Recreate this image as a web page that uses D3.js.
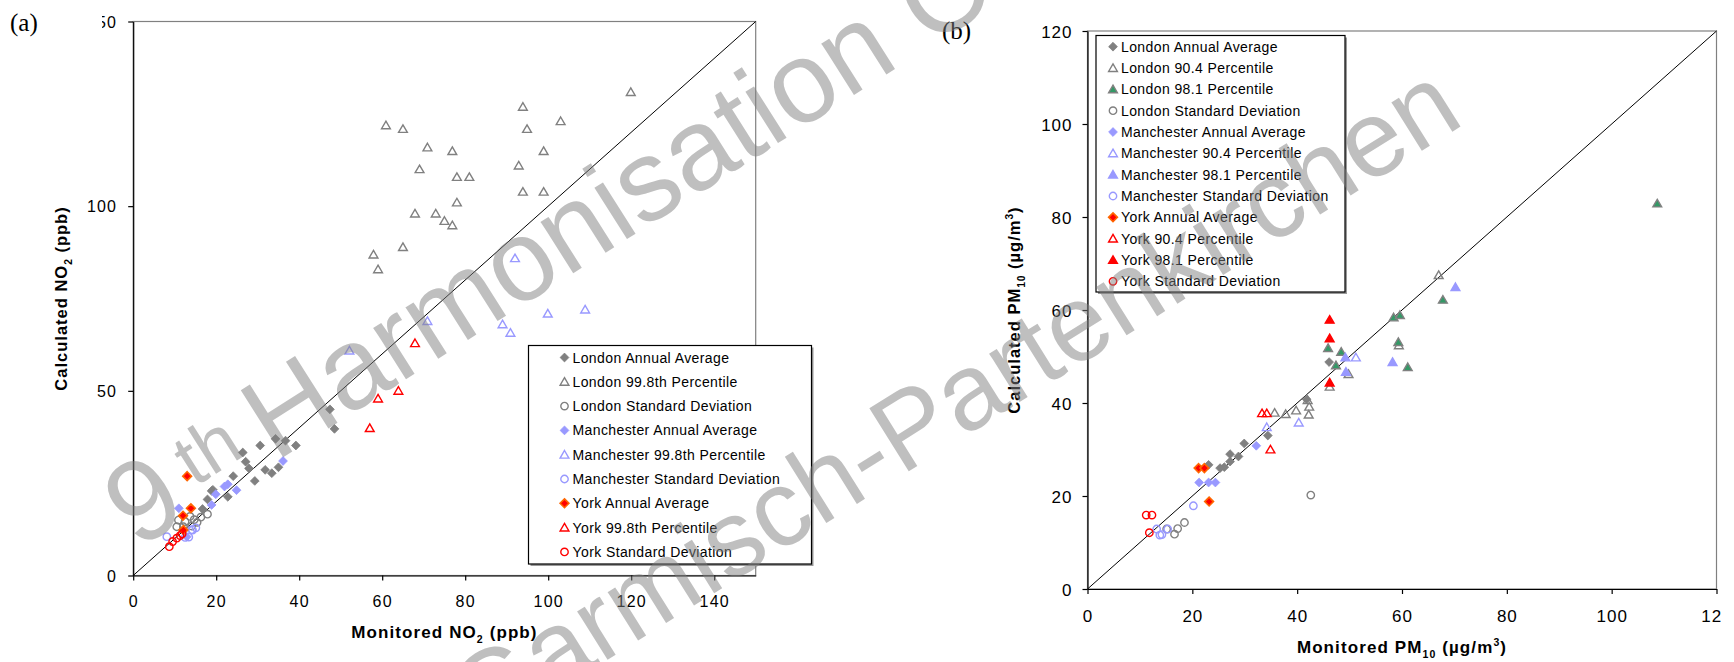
<!DOCTYPE html>
<html>
<head>
<meta charset="utf-8">
<script src="https://cdn.jsdelivr.net/npm/d3@7"></script>
<style>
  html, body { margin: 0; padding: 0; background: #fff; }
  svg { display: block; }
</style>
</head>
<body>
<svg id="chart" width="1734" height="662"></svg>
<script>
// Panel (a): NO2, monitored vs calculated (ppb)
const no2XTicks = [0, 20, 40, 60, 80, 100, 120, 140];
const no2YTicks = [0, 50, 100, 150];

const no2LondonAverage = [[47.4,45.0],[48.5,39.7],[36.7,36.5],[34.3,37.0],[39.2,35.2],[30.6,35.2],[26.4,33.3],
  [27.1,30.8],[27.9,29.0],[31.8,28.6],[33.4,27.7],[35.0,29.3],[29.3,25.6],[24.1,26.9],[22.8,21.3],[18.9,22.9],
  [17.9,20.6],[16.7,18.0],[19.2,23.2]];
const no2LondonP998 = [[119.9,130.9],[93.9,126.9],[60.9,121.9],[65.0,120.9],[94.9,120.9],[103.0,123.0],[70.9,115.9],
  [76.9,114.9],[98.9,114.9],[69.0,110.0],[92.9,111.0],[78.0,107.9],[81.0,107.9],[93.9,103.9],[98.9,103.9],
  [78.0,101.0],[67.9,98.0],[72.9,98.0],[75.0,96.0],[76.9,94.8],[65.0,88.9],[57.9,86.9],[59.0,82.9]];
const no2LondonSd = [[17.9,16.6],[16.3,15.8],[14.7,15.1],[13.7,16.0],[12.5,14.6],[10.9,15.0],[10.5,13.2],
  [12.1,13.2],[14.1,13.4],[15.4,14.4]];
const no2ManchesterAverage = [[36.1,31.0],[24.9,23.1],[22.8,24.7],[22.0,24.1],[19.9,22.0],[18.9,19.1],[11.0,18.2],[12.9,10.5]];
const no2ManchesterP998 = [[52.1,60.9],[70.9,68.9],[89.0,68.0],[90.9,65.7],[92.0,85.9],[99.9,70.9],[108.9,72.0]];
const no2ManchesterSd = [[8.1,10.5],[15.1,12.9],[14.1,12.4],[13.4,10.4],[12.5,10.3],[14.3,12.3]];
const no2YorkAverage = [[13.0,26.9],[13.9,18.2],[12.0,16.2],[12.1,12.3]];
const no2YorkP998 = [[67.9,62.9],[59.0,47.9],[63.9,50.0],[57.0,39.9]];
const no2YorkSd = [[8.7,7.8],[9.5,9.2],[10.5,10.1],[11.3,10.8],[11.8,11.3]];

// Panel (b): PM10, monitored vs calculated (ug/m3)
const pmTicks = [0, 20, 40, 60, 80, 100, 120];

const pmLondonAverage = [[46.1,48.8],[41.8,40.8],[34.4,33.0],[29.9,31.3],[28.8,28.5],[27.2,29.0],[27.2,27.4],
  [26.1,26.2],[25.3,26.0],[23.1,26.7]];
const pmLondonP904 = [[35.7,37.9],[37.8,37.6],[39.8,38.4],[42.2,37.5],[42.3,39.2],[42.0,40.6],[46.2,43.5],
  [49.8,46.2],[59.4,52.4],[67.0,67.5]];
const pmLondonP981 = [[108.7,82.9],[67.8,62.2],[58.4,58.4],[59.6,58.9],[59.3,53.1],[45.9,51.8],[48.4,51.0],
  [47.4,48.1],[61.1,47.7]];
const pmLondonSd = [[42.6,20.2],[18.5,14.3],[17.2,13.0],[16.6,11.8],[15.1,12.9]];
const pmManchesterAverage = [[32.2,30.8],[21.3,22.9],[23.1,22.9],[24.4,22.9]];
const pmManchesterP904 = [[34.2,34.8],[40.3,35.8],[51.2,49.8]];
const pmManchesterP981 = [[70.2,64.9],[58.2,48.8],[49.2,49.8],[49.3,46.7]];
const pmManchesterSd = [[20.2,17.9],[13.2,12.9],[15.3,12.9],[14.2,11.7],[13.8,11.6]];
const pmYorkAverage = [[21.2,26.0],[22.3,26.0],[23.2,18.8]];
const pmYorkP904 = [[33.3,37.8],[34.2,37.8],[34.9,30.0]];
const pmYorkP981 = [[46.2,57.9],[46.2,53.9],[46.2,44.4]];
const pmYorkSd = [[11.2,15.9],[12.3,15.9],[11.8,12.1]];

// Colours (Excel palette)
const GREY = "#808080", BLUE = "#9999ff", RED = "#ff0000", ORANGE = "#ff6600", GREEN = "#339966";
const SANS = "'Liberation Sans', Arial, sans-serif";

// Series tables built from the arrays above
const no2Series = [
  {name: "London Annual Average", data: no2LondonAverage, shape: "diamond", fill: GREY, stroke: GREY},
  {name: "London 99.8th Percentile", data: no2LondonP998, shape: "triangle", fill: "none", stroke: GREY},
  {name: "London Standard Deviation", data: no2LondonSd, shape: "circle", fill: "none", stroke: GREY},
  {name: "Manchester Annual Average", data: no2ManchesterAverage, shape: "diamond", fill: BLUE, stroke: BLUE},
  {name: "Manchester 99.8th Percentile", data: no2ManchesterP998, shape: "triangle", fill: "none", stroke: BLUE},
  {name: "Manchester Standard Deviation", data: no2ManchesterSd, shape: "circle", fill: "none", stroke: BLUE},
  {name: "York Annual Average", data: no2YorkAverage, shape: "diamond", fill: RED, stroke: ORANGE},
  {name: "York 99.8th Percentile", data: no2YorkP998, shape: "triangle", fill: "none", stroke: RED},
  {name: "York Standard Deviation", data: no2YorkSd, shape: "circle", fill: "none", stroke: RED}
];

const pmSeries = [
  {name: "London Annual Average", data: pmLondonAverage, shape: "diamond", fill: GREY, stroke: GREY},
  {name: "London 90.4 Percentile", data: pmLondonP904, shape: "triangle", fill: "none", stroke: GREY},
  {name: "London 98.1 Percentile", data: pmLondonP981, shape: "triangle", fill: GREEN, stroke: GREY},
  {name: "London Standard Deviation", data: pmLondonSd, shape: "circle", fill: "none", stroke: GREY},
  {name: "Manchester Annual Average", data: pmManchesterAverage, shape: "diamond", fill: BLUE, stroke: BLUE},
  {name: "Manchester 90.4 Percentile", data: pmManchesterP904, shape: "triangle", fill: "none", stroke: BLUE},
  {name: "Manchester 98.1 Percentile", data: pmManchesterP981, shape: "triangle", fill: BLUE, stroke: BLUE},
  {name: "Manchester Standard Deviation", data: pmManchesterSd, shape: "circle", fill: "none", stroke: BLUE},
  {name: "York Annual Average", data: pmYorkAverage, shape: "diamond", fill: RED, stroke: ORANGE},
  {name: "York 90.4 Percentile", data: pmYorkP904, shape: "triangle", fill: "none", stroke: RED},
  {name: "York 98.1 Percentile", data: pmYorkP981, shape: "triangle", fill: RED, stroke: RED},
  {name: "York Standard Deviation", data: pmYorkSd, shape: "circle", fill: "none", stroke: RED}
];

const svg = d3.select("#chart");

// Marker outline for one shape
function markerPath(shape) {
  if (shape === "diamond") return "M0,-4.4L4.4,0L0,4.4L-4.4,0Z";
  if (shape === "triangle") return "M0,-4.2L4.4,3.4L-4.4,3.4Z";
  const r = 3.7;
  return `M${-r},0a${r},${r} 0 1,0 ${2 * r},0a${r},${r} 0 1,0 ${-2 * r},0Z`;
}

function drawMarker(sel, s) {
  sel.attr("d", markerPath(s.shape))
    .attr("fill", s.fill)
    .attr("stroke", s.stroke)
    .attr("stroke-width", s.shape === "diamond" ? (s.stroke === ORANGE ? 1.6 : 0.8) : 1.4);
}

// Text with sub/superscripts: parts = [[text, kind], ...]
function richText(sel, parts, size) {
  parts.forEach(([t, kind]) => {
    const ts = sel.append("tspan").text(t);
    if (kind === "sub") ts.attr("font-size", size * 0.62).attr("dy", size * 0.28);
    if (kind === "sup") ts.attr("font-size", size * 0.62).attr("dy", -size * 0.42);
    if (kind === "subEnd") ts.attr("dy", -size * 0.28);
    if (kind === "supEnd") ts.attr("dy", size * 0.42);
  });
}

/**
 * Draw one scatter panel: frame, axes, 1:1 line, markers, legend and titles.
 */
function drawPanel(p) {
  const g = svg.append("g");
  if (p.clipRight) {
    svg.append("clipPath").attr("id", p.id + "-clip")
      .append("rect").attr("x", 0).attr("y", 0).attr("width", p.clipRight).attr("height", 662);
    g.attr("clip-path", `url(#${p.id}-clip)`);
  }

  const x = d3.scaleLinear().domain([0, p.max]).range([p.left, p.right]);
  const y = d3.scaleLinear().domain([0, p.max]).range([p.bottom, p.top]);

  // Plot area frame
  g.append("rect")
    .attr("x", p.left).attr("y", p.top)
    .attr("width", p.right - p.left).attr("height", p.bottom - p.top)
    .attr("fill", "none").attr("stroke", GREY).attr("stroke-width", 1.2);

  // X axis
  const gx = g.append("g")
    .attr("transform", `translate(0,${p.bottom})`)
    .call(d3.axisBottom(x).tickValues(p.xTicks).tickSize(5).tickSizeOuter(0));
  gx.selectAll("text")
    .attr("y", p.xLabelOffset).attr("dy", "0.36em")
    .attr("font-size", p.tickSize).attr("letter-spacing", p.tickSpacing)
    .attr("font-family", SANS).attr("fill", "#000");

  // Y axis
  const gy = g.append("g")
    .attr("transform", `translate(${p.left},0)`)
    .call(d3.axisLeft(y).tickValues(p.yTicks).tickSize(5).tickSizeOuter(0));
  gy.selectAll("text")
    .attr("x", -p.yLabelOffset).attr("dy", "0.36em")
    .attr("font-size", p.tickSize).attr("letter-spacing", p.tickSpacing)
    .attr("font-family", SANS).attr("fill", "#000");
  g.selectAll(".domain, .tick line").attr("stroke", "#000").attr("stroke-width", 1.2);

  // 1:1 line
  g.append("line")
    .attr("x1", x(0)).attr("y1", y(0)).attr("x2", x(p.max)).attr("y2", y(p.max))
    .attr("stroke", "#000").attr("stroke-width", 1);

  // Markers
  p.series.forEach(s => {
    g.append("g").selectAll("path")
      .data(s.data)
      .enter()
      .append("path")
      .attr("transform", d => `translate(${x(d[0])},${y(d[1])})`)
      .call(drawMarker, s);
  });

  // Legend
  const lg = g.append("g");
  lg.append("rect")
    .attr("x", p.legend.x + 2).attr("y", p.legend.y + 2)
    .attr("width", p.legend.w).attr("height", p.legend.h).attr("fill", "#999");
  lg.append("rect")
    .attr("x", p.legend.x).attr("y", p.legend.y)
    .attr("width", p.legend.w).attr("height", p.legend.h)
    .attr("fill", "#fff").attr("stroke", "#000").attr("stroke-width", 1.2);
  const rows = lg.selectAll("g.row")
    .data(p.series)
    .enter()
    .append("g")
    .attr("transform", (d, i) => `translate(${p.legend.x},${p.legend.row0 + i * p.legend.step})`);
  rows.append("path")
    .attr("transform", `translate(${p.legend.marker},0)`)
    .each(function(d) { d3.select(this).call(drawMarker, d); });
  rows.append("text")
    .attr("x", p.legend.text).attr("dy", "0.36em")
    .attr("font-family", SANS).attr("font-size", 14).attr("letter-spacing", 0.4)
    .text(d => d.name);

  // Axis titles
  const xt = g.append("text")
    .attr("x", (p.left + p.right) / 2).attr("y", p.xTitleY).attr("dy", "0.36em")
    .attr("text-anchor", "middle").attr("font-family", SANS).attr("font-weight", "bold")
    .attr("font-size", 17).attr("letter-spacing", 1.1);
  richText(xt, p.xTitle, 17);
  const yt = g.append("text")
    .attr("transform", `translate(${p.yTitleX},${(p.top + p.bottom) / 2}) rotate(-90)`)
    .attr("dy", "0.36em")
    .attr("text-anchor", "middle").attr("font-family", SANS).attr("font-weight", "bold")
    .attr("font-size", 16.5).attr("letter-spacing", 1);
  richText(yt, p.yTitle, 16.5);

  return g;
}

drawPanel({
  id: "no2", max: 150, left: 133.2, right: 755.7, top: 21.5, bottom: 575.5,
  xTicks: no2XTicks, yTicks: no2YTicks, series: no2Series,
  tickSize: 16, tickSpacing: 1.2, xLabelOffset: 26, yLabelOffset: 16,
  legend: {x: 528.5, y: 345.5, w: 283, h: 218.5, row0: 357.5, step: 24.3, marker: 36, text: 44},
  xTitleY: 632, yTitleX: 61,
  xTitle: [["Monitored NO", null], ["2", "sub"], [" (ppb)", "subEnd"]],
  yTitle: [["Calculated NO", null], ["2", "sub"], [" (ppb)", "subEnd"]]
});

drawPanel({
  id: "pm", max: 120, left: 1087.5, right: 1716.5, top: 31, bottom: 589, clipRight: 1722,
  xTicks: pmTicks, yTicks: pmTicks, series: pmSeries,
  tickSize: 17, tickSpacing: 1, xLabelOffset: 27, yLabelOffset: 15,
  legend: {x: 1096, y: 35.5, w: 249, h: 256.5, row0: 46.7, step: 21.33, marker: 17, text: 25},
  xTitleY: 647, yTitleX: 1014,
  xTitle: [["Monitored PM", null], ["10", "sub"], [" (\u00b5g/m", "subEnd"], ["3", "sup"], [")", "supEnd"]],
  yTitle: [["Calculated PM", null], ["10", "sub"], [" (\u00b5g/m", "subEnd"], ["3", "sup"], [")", "supEnd"]]
});

// Panel letters, on white boxes laid over the charts
svg.append("rect").attr("x", 0).attr("y", 0).attr("width", 102).attr("height", 40).attr("fill", "#fff");
svg.append("text").attr("x", 10).attr("y", 31)
  .attr("font-family", "'Liberation Serif', 'Times New Roman', serif").attr("font-size", 25).text("(a)");
svg.append("text").attr("x", 942).attr("y", 39)
  .attr("font-family", "'Liberation Serif', 'Times New Roman', serif").attr("font-size", 25).text("(b)");

// Conference watermark over everything
const wm = svg.append("g")
  .attr("font-family", SANS).attr("fill", "#808080").attr("fill-opacity", 0.5)
  .style("pointer-events", "none");
const wm1 = wm.append("text")
  .attr("transform", "translate(137,550) rotate(-32.4)")
  .attr("font-size", 115);
wm1.append("tspan").text("9");
wm1.append("tspan").attr("font-size", 74).attr("dx", 18).attr("dy", -22).text("th");
wm1.append("tspan").attr("dx", -12).attr("dy", 22).text(" Harmonisation Conference");
wm.append("text")
  .attr("transform", "translate(479,740) rotate(-32)")
  .attr("font-size", 108)
  .text("Garmisch-Partenkirchen");
</script>
</body>
</html>
